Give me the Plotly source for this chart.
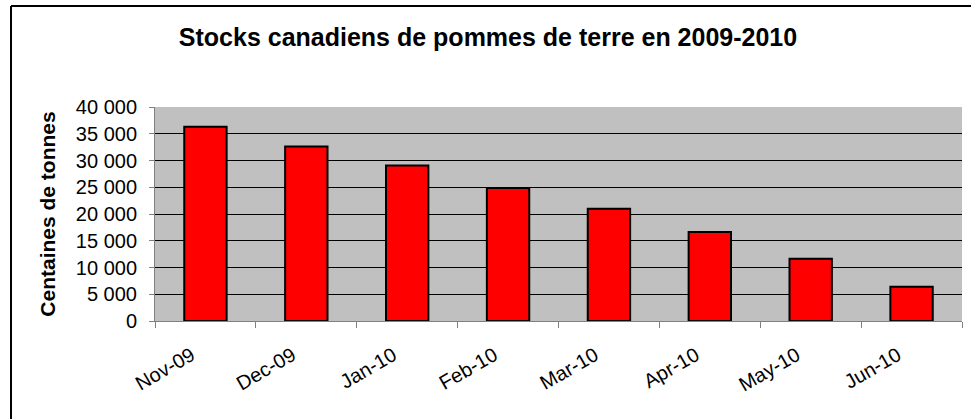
import plotly.graph_objects as go

months = ["Nov-09", "Dec-09", "Jan-10", "Feb-10", "Mar-10", "Apr-10", "May-10", "Jun-10"]
stocks = [36300, 32600, 29050, 24850, 21000, 16650, 11650, 6400]
y_ticks = [0, 5000, 10000, 15000, 20000, 25000, 30000, 35000, 40000]
y_tick_labels = ["0", "5 000", "10 000", "15 000", "20 000", "25 000", "30 000", "35 000", "40 000"]

FONT = "Liberation Sans, Arial, sans-serif"

fig = go.Figure(
    go.Bar(
        x=months,
        y=stocks,
        marker=dict(color="#FF0000", line=dict(color="#000000", width=2)),
    )
)

x_left = -144 / 807
y_top = 1 + 101 / 214

fig.update_layout(
    width=971,
    height=419,
    margin=dict(l=155, r=9, t=107, b=98),
    paper_bgcolor="white",
    plot_bgcolor="#C0C0C0",
    bargap=0.58,
    showlegend=False,
    font=dict(family=FONT, color="black"),
    title=dict(
        text="<b>Stocks canadiens de pommes de terre en 2009-2010</b>",
        font=dict(family=FONT, size=25, color="black"),
        x=488 / 971, xanchor="center", xref="container",
        y=1 - 37 / 419, yref="container", yanchor="middle",
    ),
    shapes=[
        dict(type="rect", xref="paper", yref="paper",
             x0=1 + 2 / 807, x1=1.2, y0=-0.6, y1=y_top - 2 / 214,
             line=dict(width=0), fillcolor="white", layer="above"),
        dict(type="line", xref="paper", yref="paper",
             x0=x_left, x1=1.2, y0=y_top, y1=y_top,
             line=dict(color="#000000", width=2), layer="above"),
        dict(type="line", xref="paper", yref="paper",
             x0=x_left, x1=x_left, y0=-0.6, y1=y_top,
             line=dict(color="#000000", width=2), layer="above"),
    ],
)

fig.update_xaxes(
    type="category",
    tickson="boundaries",
    ticks="outside",
    ticklen=6,
    tickcolor="#808080",
    tickwidth=1,
    showline=True,
    linecolor="#808080",
    linewidth=1,
    showgrid=False,
    tickangle=-30,
    ticklabelshift=-14,
    ticklabelstandoff=14,
    tickfont=dict(family=FONT, size=20, color="black"),
)

fig.update_yaxes(
    range=[0, 40000],
    tickvals=y_ticks,
    ticktext=y_tick_labels,
    ticks="outside",
    ticklen=5,
    tickcolor="#808080",
    ticklabelstandoff=8,
    showline=True,
    linecolor="#808080",
    linewidth=1,
    showgrid=True,
    gridcolor="#000000",
    gridwidth=1,
    zeroline=False,
    tickfont=dict(family=FONT, size=20, color="black"),
    title=dict(text="<b>Centaines de tonnes</b>", font=dict(family=FONT, size=21, color="black"), standoff=14),
)

fig.write_html(
    "out.html",
    config={"displayModeBar": False},
    post_script=(
        "document.body.style.margin='0';"
        "document.body.style.overflow='hidden';"
        "document.documentElement.style.overflow='hidden';"
    ),
)
